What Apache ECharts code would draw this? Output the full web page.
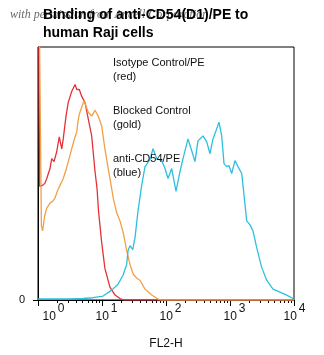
<!DOCTYPE html>
<html>
<head>
<meta charset="utf-8">
<script src="https://cdn.jsdelivr.net/npm/echarts@6/dist/echarts.min.js"></script>
<style>
  html, body { margin: 0; padding: 0; background: #fff; }
  #chart { width: 324px; height: 355px; }
</style>
</head>
<body>
<div id="chart"></div>
<script>
// FL2-H histograms: [fluorescence intensity, event count]
const isotypeControl = [
  [1, 420], [1.06, 115], [1.18, 116], [1.28, 118], [1.37, 123], [1.54, 133], [1.64, 143],
  [1.78, 140], [1.96, 150], [2.15, 165], [2.35, 153], [2.48, 163], [2.74, 186], [2.97, 200],
  [3.36, 211], [3.79, 218], [4.03, 213], [4.42, 213], [4.82, 206], [5.42, 200], [6.11, 183],
  [6.90, 166], [7.78, 130], [8.36, 113], [8.82, 90], [9.89, 58], [11.1, 32], [13.3, 13],
  [16.0, 5], [19.1, 1.5], [22, 0], [10000, 0]
];
const blockedControl = [
  [1, 420], [1.13, 75], [1.18, 70], [1.27, 85], [1.37, 93], [1.54, 98], [1.70, 100],
  [1.84, 103], [2.0, 110], [2.21, 116], [2.48, 123], [2.75, 132], [2.97, 140], [3.36, 153],
  [3.79, 165], [4.03, 170], [4.22, 181], [4.42, 188], [4.82, 195], [5.23, 202], [5.62, 196],
  [6.11, 190], [6.90, 186], [7.78, 192], [8.75, 186], [9.89, 176], [11.1, 153], [12.5, 133],
  [13.3, 123], [15.0, 103], [17.0, 88], [19.1, 80], [21.5, 68], [24.3, 50], [27.4, 36],
  [30.8, 26], [35, 22], [39.2, 20], [47, 11], [59.8, 5], [75, 1], [85, 0], [10000, 0]
];
const antiCD54 = [
  [1, 1], [3, 1], [5, 1.5], [7.24, 2.3], [10.4, 4], [14.2, 10], [17.8, 16], [21.3, 25],
  [24.3, 36], [25.5, 50], [27.4, 55], [30.2, 51], [32.8, 63], [36.5, 90], [41.7, 116],
  [47.0, 135], [56.2, 142], [62.6, 153], [71.6, 143], [85.7, 141], [96.5, 133], [107.5, 123],
  [122.8, 133], [143.3, 110], [165.5, 130], [184.5, 143], [220.6, 163], [252.2, 151],
  [283.8, 140], [316, 161], [378.6, 166], [432.5, 160], [487, 148], [542, 163], [619, 173],
  [673, 180], [742, 166], [806, 138], [888, 135], [964, 136], [1063, 128], [1197, 141],
  [1334, 135], [1523, 128], [1596, 116], [1823, 80], [2054, 76], [2287, 70], [2613, 53],
  [3127, 33], [3743, 20], [4697, 11], [6043, 8], [7693, 5], [9755, 1.3]
];

// Axis ticks and labels
const xMajorTicks = [1, 10, 100, 1000, 10000];
const xTickBase = '10';
const xTickExponents = ['0', '1', '2', '3', '4'];
const xMinorTicks = [
  2, 3, 4, 5, 6, 7, 8, 9,
  20, 30, 40, 50, 60, 70, 80, 90,
  200, 300, 400, 500, 600, 700, 800, 900,
  2000, 3000, 4000, 5000, 6000, 7000, 8000, 9000
];
const yTicks = [0];
const xAxisName = 'FL2-H';
const titleText = 'Binding of anti-CD54(D1)/PE to\nhuman Raji cells';
const creditText = 'with permission from Ancell Corporation';
const seriesNotes = [
  'Isotype Control/PE\n(red)',
  'Blocked Control\n(gold)',
  'anti-CD54/PE\n(blue)'
];

// label lead-in widths keep each "10" centred under (or beside) its tick
const leadStyle = ['p0', 'p', 'p', 'p', 'p4'];

const FONT = '"Liberation Sans", Arial, sans-serif';
const chart = echarts.init(document.getElementById('chart'), null, { renderer: 'canvas' });

const noteTops = [56, 104, 152];

chart.setOption({
  animation: false,
  backgroundColor: '#fff',
  title: {
    text: titleText,
    left: 38,
    top: 1,
    z: 10,
    textStyle: {
      fontFamily: FONT,
      fontSize: 14,
      fontWeight: 'bold',
      color: '#000',
      lineHeight: 18
    }
  },
  graphic: [
    {
      type: 'text',
      left: 10,
      top: 9,
      z: 1,
      style: {
        text: creditText,
        font: 'italic 12px "Liberation Serif", "DejaVu Serif", serif',
        fill: '#6a6a6a'
      }
    }
  ].concat(seriesNotes.map(function (t, i) {
    return {
      type: 'text',
      left: 113,
      top: noteTops[i],
      z: 5,
      style: {
        text: t,
        font: '11px ' + FONT,
        fill: '#111',
        lineHeight: 14
      }
    };
  })),
  grid: {
    left: 38,
    right: 30,
    top: 47,
    bottom: 52,
    show: true,
    borderColor: '#000',
    borderWidth: 1,
    backgroundColor: 'transparent'
  },
  xAxis: [
    {
      type: 'log',
      logBase: 10,
      min: 1,
      max: 10000,
      position: 'bottom',
      name: xAxisName,
      nameLocation: 'middle',
      nameGap: 38,
      nameTextStyle: { fontFamily: FONT, fontSize: 12, color: '#111' },
      axisLine: { show: true, lineStyle: { color: '#000', width: 1 } },
      axisTick: { show: true, customValues: xMajorTicks, length: 6, lineStyle: { color: '#000' } },
      splitLine: { show: false },
      axisLabel: {
        customValues: xMajorTicks,
        margin: 3,
        align: 'center',
        hideOverlap: false,
        showMinLabel: true,
        showMaxLabel: true,
        formatter: function (value) {
          const i = xMajorTicks.indexOf(value);
          if (i < 0) return '';
          return '{' + leadStyle[i] + '| }{b|' + xTickBase + '}{s|' + xTickExponents[i] + '}';
        },
        rich: {
          p0: { width: 31, fontSize: 12 },
          p: { width: 9, fontSize: 12 },
          p4: { width: 1, fontSize: 12 },
          b: { fontFamily: FONT, fontSize: 12, color: '#111', lineHeight: 28 },
          s: { fontFamily: FONT, fontSize: 12, color: '#111', lineHeight: 12, verticalAlign: 'top', padding: [0, 0, 0, 2] }
        }
      }
    },
    {
      type: 'log',
      logBase: 10,
      min: 1,
      max: 10000,
      position: 'bottom',
      axisLine: { show: false },
      axisTick: { show: true, customValues: xMinorTicks, length: 3, lineStyle: { color: '#000' } },
      axisLabel: { show: false },
      splitLine: { show: false }
    }
  ],
  yAxis: {
    type: 'value',
    min: 0,
    max: 256,
    axisLine: { show: true, lineStyle: { color: '#000', width: 1 } },
    axisTick: { show: true, customValues: yTicks, length: 5, lineStyle: { color: '#000' } },
    axisLabel: {
      customValues: yTicks,
      margin: 13,
      verticalAlign: 'middle',
      padding: [0, 0, 9, 0],
      fontFamily: FONT,
      fontSize: 11,
      color: '#111'
    },
    splitLine: { show: false }
  },
  series: [
    {
      name: 'Isotype Control/PE',
      type: 'line',
      xAxisIndex: 0,
      data: isotypeControl,
      symbol: 'none',
      clip: true,
      lineStyle: { color: '#e43236', width: 1.3 },
      z: 2
    },
    {
      name: 'Blocked Control',
      type: 'line',
      xAxisIndex: 0,
      data: blockedControl,
      symbol: 'none',
      clip: true,
      lineStyle: { color: '#f0a046', width: 1.3 },
      z: 3
    },
    {
      name: 'anti-CD54/PE',
      type: 'line',
      xAxisIndex: 0,
      data: antiCD54,
      symbol: 'none',
      clip: true,
      lineStyle: { color: '#2dc0de', width: 1.3 },
      z: 4
    }
  ]
});
</script>
</body>
</html>
